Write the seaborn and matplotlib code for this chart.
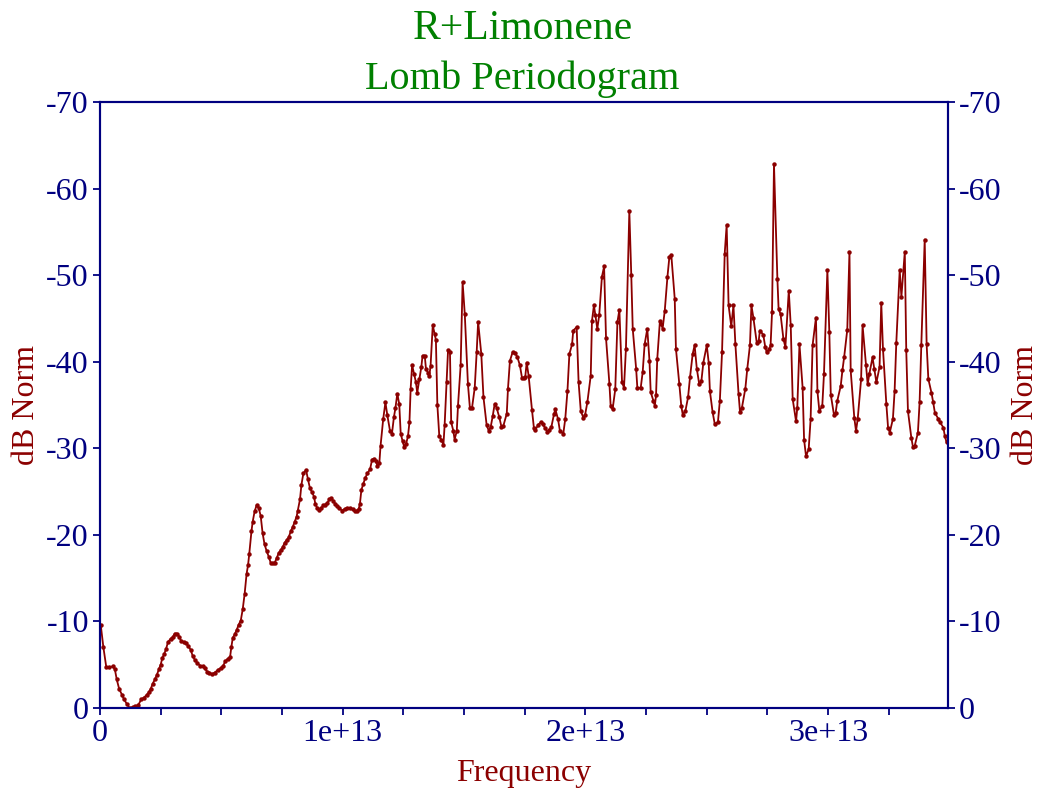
import numpy as np
import pandas as pd
import matplotlib
matplotlib.use("Agg")
import matplotlib.pyplot as plt
import seaborn as sns
from matplotlib.ticker import MultipleLocator

# Lomb periodogram of R+Limonene, frequency in units of 1e12 Hz
freq_e12 = [
    0.03, 0.14, 0.26, 0.38, 0.52, 0.61, 0.69, 0.79, 0.91, 0.99, 1.10, 1.22, 1.35, 1.46, 1.57, 1.70,
    1.81, 1.92, 2.01, 2.09, 2.17, 2.26, 2.34, 2.43, 2.50, 2.57, 2.64, 2.72, 2.80, 2.91, 3.00, 3.08,
    3.18, 3.27, 3.35, 3.46, 3.54, 3.63, 3.74, 3.82, 3.90, 4.01, 4.12, 4.23, 4.31, 4.42, 4.50, 4.61, 4.73,
    4.86, 4.97, 5.08, 5.16, 5.27, 5.36, 5.41, 5.47, 5.55, 5.63, 5.71, 5.80, 5.88, 5.96, 6.04, 6.10,
    6.15, 6.24, 6.29, 6.37, 6.45, 6.54, 6.62, 6.70, 6.78, 6.87, 6.95, 7.03, 7.11, 7.20, 7.28, 7.36,
    7.44, 7.53, 7.61, 7.69, 7.77, 7.86, 7.94, 8.02, 8.10, 8.15, 8.24, 8.30, 8.38, 8.49, 8.57, 8.65,
    8.74, 8.82, 8.87, 8.95, 9.04, 9.12, 9.20, 9.28, 9.37, 9.45, 9.53, 9.61, 9.69, 9.78, 9.86,
    9.97, 10.08, 10.19, 10.30, 10.41, 10.49, 10.58, 10.66, 10.71, 10.77, 10.85, 10.93, 11.02, 11.13,
    11.21, 11.29, 11.37, 11.43, 11.51, 11.56, 11.67, 11.76, 11.84, 11.95, 12.03, 12.11, 12.17, 12.25,
    12.33, 12.39, 12.47, 12.53, 12.61, 12.69, 12.75, 12.80, 12.86, 12.94, 13.02, 13.07, 13.16, 13.24,
    13.29, 13.38, 13.43, 13.52, 13.57, 13.62, 13.71, 13.79, 13.84, 13.90, 13.98, 14.06, 14.15, 14.20,
    14.28, 14.34, 14.42, 14.47, 14.56, 14.61, 14.70, 14.75,
    14.86, 14.94, 15.03, 15.16, 15.24, 15.33, 15.44, 15.52, 15.58, 15.71, 15.80, 15.93, 16.02, 16.10,
    16.18, 16.26, 16.34, 16.45, 16.54, 16.62, 16.76, 16.81, 16.89, 17.00, 17.11, 17.20, 17.30, 17.39,
    17.47, 17.52, 17.58, 17.66, 17.80, 17.88, 17.94, 18.05, 18.16, 18.24, 18.35, 18.43, 18.52, 18.60,
    18.71, 18.76, 18.87, 18.95, 19.09, 19.17, 19.26, 19.34, 19.45, 19.50, 19.64, 19.72,
    19.81, 19.92, 19.99, 20.08, 20.22, 20.27, 20.35, 20.41, 20.49, 20.57, 20.68, 20.77, 20.85, 20.99,
    21.04, 21.12, 21.23, 21.32, 21.40, 21.51, 21.59, 21.67, 21.81, 21.89, 21.95, 22.09, 22.14, 22.28,
    22.36, 22.44, 22.55, 22.64, 22.69, 22.80, 22.86, 22.91, 22.96, 23.07, 23.13, 23.18, 23.27, 23.38,
    23.46, 23.54, 23.68, 23.73, 23.87, 23.95, 24.01, 24.12, 24.23, 24.31, 24.42, 24.50, 24.59, 24.69,
    24.78, 24.86, 25.00, 25.08, 25.13, 25.24, 25.33, 25.46, 25.54, 25.63, 25.74, 25.82, 25.90, 26.01,
    26.10, 26.18, 26.31, 26.37, 26.45, 26.59, 26.67, 26.78, 26.84, 26.92, 27.06, 27.14, 27.19, 27.33,
    27.41, 27.47, 27.58, 27.63, 27.69, 27.77, 27.91, 27.96, 28.04, 28.16, 28.24, 28.38, 28.46, 28.54,
    28.68, 28.73, 28.82, 28.95, 29.01, 29.09, 29.20, 29.28, 29.36, 29.50, 29.56, 29.64,
    29.76, 29.83, 29.97, 30.05, 30.11, 30.24, 30.31, 30.38, 30.52, 30.59, 30.66, 30.79, 30.88, 30.93,
    31.08, 31.15, 31.22, 31.36, 31.42, 31.56, 31.63, 31.70, 31.83, 31.90, 31.99, 32.12, 32.19, 32.26,
    32.40, 32.47, 32.54, 32.67, 32.74, 32.81, 32.95, 33.02, 33.16, 33.22, 33.29, 33.43, 33.50, 33.57,
    33.70, 33.77, 33.84, 33.98, 34.06, 34.13, 34.26, 34.33, 34.40, 34.54, 34.61, 34.75, 34.81, 34.88,
]

db_norm = [
    -9.6, -7.0, -4.7, -4.7, -4.8, -4.5, -3.3, -2.2, -1.5, -1.0, -0.5, 0.0, -0.1, -0.2, -0.3, -1.0,
    -1.2, -1.5, -1.8, -2.2, -2.8, -3.3, -3.8, -4.5, -5.0, -5.8, -6.2, -6.8, -7.6, -8.0, -8.2, -8.6,
    -8.6, -8.2, -7.7, -7.6, -7.5, -7.2, -6.7, -6.0, -5.6, -5.2, -4.9, -4.8, -4.6, -4.2, -4.1, -3.9, -4.1,
    -4.4, -4.6, -4.9, -5.4, -5.7, -5.9, -7.0, -8.1, -8.5, -9.0, -9.6, -10.1, -11.4, -13.2, -15.5, -16.5,
    -17.8, -20.4, -21.5, -22.7, -23.4, -23.1, -22.2, -20.2, -18.9, -18.1, -17.5, -16.8, -16.7, -16.8, -17.3, -17.9,
    -18.2, -18.6, -19.1, -19.4, -19.7, -20.4, -20.9, -21.5, -22.1, -22.8, -24.1, -25.8, -27.1, -27.5, -26.4, -25.4,
    -24.9, -24.4, -23.6, -23.1, -22.9, -23.1, -23.4, -23.5, -23.7, -24.1, -24.2, -23.9, -23.6, -23.3, -23.1,
    -22.8, -23.0, -23.1, -23.1, -23.0, -22.7, -22.8, -23.0, -23.6, -25.2, -25.9, -26.6, -27.1, -27.6,
    -28.7, -28.8, -28.5, -28.0, -28.3, -30.3, -33.4, -35.3, -33.8, -32.0, -31.7, -33.6, -34.6, -36.3,
    -35.1, -31.7, -30.8, -30.2, -30.5, -31.4, -33.0, -36.9, -39.6, -38.6, -37.6, -36.4, -38.0, -39.4,
    -40.7, -40.7, -39.2, -38.7, -38.4, -39.5, -44.2, -43.2, -42.5, -35.0, -31.4, -31.0, -30.4, -32.7,
    -37.6, -41.3, -41.1, -33.0, -32.0, -31.0, -32.0, -34.9,
    -39.6, -49.2, -45.5, -37.4, -34.7, -34.7, -37.0, -41.1, -44.6, -40.9, -35.9, -32.7, -32.0, -32.5,
    -33.7, -35.1, -34.7, -33.6, -32.5, -32.6, -34.0, -36.9, -40.1, -41.1, -41.0, -40.5, -39.6, -38.1,
    -38.1, -38.2, -39.9, -38.4, -34.4, -32.3, -32.1, -32.7, -33.0, -32.8, -32.3, -31.9, -32.1, -32.5,
    -34.0, -34.5, -33.4, -32.0, -31.7, -33.4, -36.6, -40.9, -42.0, -43.6, -44.0, -37.6,
    -34.3, -33.5, -33.9, -35.3, -38.4, -44.7, -46.5, -45.4, -43.8, -45.4, -49.8, -51.0, -42.7, -37.4,
    -34.9, -34.5, -36.8, -44.6, -46.0, -37.6, -37.0, -41.5, -57.4, -50.0, -43.8, -39.2, -37.0, -37.0,
    -38.8, -42.0, -43.8, -40.1, -36.5, -35.5, -34.9, -36.1, -40.3, -44.7, -44.4, -43.8, -45.9, -49.8,
    -52.1, -52.3, -47.3, -41.5, -37.4, -34.9, -33.9, -34.3, -35.9, -38.2, -40.9, -41.9, -39.2, -37.4,
    -37.8, -39.9, -41.9, -39.9, -36.6, -34.2, -32.8, -33.0, -35.5, -41.1, -52.5, -55.8, -46.5, -44.1,
    -46.5, -42.0, -36.3, -34.2, -34.7, -36.9, -39.2, -41.9, -46.5, -45.1, -42.2, -42.4, -43.6, -43.1,
    -41.7, -41.1, -41.5, -41.9, -45.7, -62.8, -49.6, -46.1, -45.5, -42.6, -41.7, -48.2, -44.2, -35.7,
    -33.1, -34.7, -42.0, -37.0, -31.0, -29.1, -29.9, -33.4, -41.9, -45.1, -36.6, -34.3,
    -34.9, -38.6, -50.6, -43.4, -36.2, -33.9, -34.1, -35.5, -37.2, -39.0, -40.5, -43.7, -52.7, -39.0,
    -33.5, -32.0, -33.4, -38.0, -44.2, -39.6, -37.4, -38.6, -40.5, -39.2, -37.6, -39.4, -46.8, -41.5,
    -35.1, -32.4, -31.8, -33.4, -36.6, -42.2, -50.6, -47.5, -52.7, -41.3, -34.3, -31.2, -30.1, -30.3,
    -31.8, -35.3, -41.9, -54.1, -42.0, -38.0, -36.4, -35.3, -34.1, -33.4, -33.0, -32.4, -31.4, -30.7,
]

y_ticks = [0, -10, -20, -30, -40, -50, -60, -70]
x_ticks = [0, 1e13, 2e13, 3e13]
x_tick_labels = ["0", "1e+13", "2e+13", "3e+13"]

navy = "#000080"
dark_red = "#8b0000"
green = "#008000"

sns.set_style("white")
plt.rcParams["font.family"] = ["Liberation Serif", "DejaVu Serif"]
plt.rcParams["axes.unicode_minus"] = False

df = pd.DataFrame({"Frequency": np.array(freq_e12) * 1e12, "dB Norm": db_norm})

fig = plt.figure(figsize=(10.45, 7.88), dpi=100)
ax = fig.add_axes([100 / 1045, 80 / 788, 848 / 1045, 606 / 788])

sns.lineplot(data=df, x="Frequency", y="dB Norm", color=dark_red, linewidth=1.3,
             marker="o", markersize=3.2, markeredgewidth=0, sort=False, ax=ax)

ax.set_xlim(0, 3.494e13)
ax.set_ylim(0, -70)
ax.set_yticks(y_ticks)
ax.set_xticks(x_ticks)
ax.set_xticklabels(x_tick_labels)
ax.xaxis.set_minor_locator(MultipleLocator(2.5e12))

ax2 = ax.twinx()
ax2.set_ylim(0, -70)
ax2.set_yticks(y_ticks)

for a in (ax, ax2):
    for s in a.spines.values():
        s.set_color(navy)
        s.set_linewidth(1.5)
    a.tick_params(axis="both", which="both", direction="out", color=navy,
                  labelcolor=navy, labelsize=23, length=5, width=1.3, pad=3)

ax.tick_params(axis="x", which="both", bottom=True, top=False)
ax.tick_params(axis="y", left=True, right=False)
ax2.tick_params(axis="y", right=True, left=False)

ax.set_ylabel("dB Norm", color=dark_red, fontsize=23, labelpad=4)
ax2.set_ylabel("dB Norm", color=dark_red, fontsize=23, labelpad=7, rotation=90)
ax.set_xlabel("Frequency", color=dark_red, fontsize=23, labelpad=8)

fig.text(0.5, 1 - 29 / 788, "R+Limonene", ha="center", va="center", color=green, fontsize=30)
fig.text(0.5, 1 - 79 / 788, "Lomb Periodogram", ha="center", va="center", color=green, fontsize=29)

fig.savefig("out.png", dpi=100)
